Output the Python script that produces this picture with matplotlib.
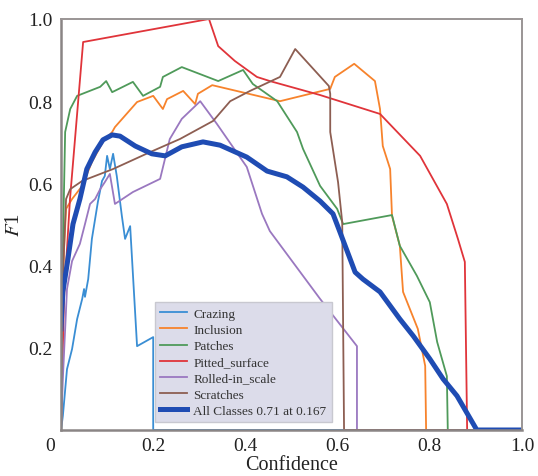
import matplotlib
matplotlib.use("Agg")
import matplotlib.pyplot as plt
from matplotlib.transforms import ScaledTranslation

plt.rcParams['font.family'] = ['Liberation Serif', 'DejaVu Serif']
plt.rcParams['mathtext.fontset'] = 'stix'

# ---- data (confidence, F1) ----
crazing_x = [0, 0.004, 0.013, 0.024, 0.035, 0.046, 0.050, 0.052, 0.059, 0.067, 0.080, 0.089,
             0.095, 0.100, 0.106, 0.113, 0.121, 0.132, 0.139, 0.150, 0.165, 0.200, 0.200, 1.0]
crazing_y = [0, 0.034, 0.148, 0.197, 0.270, 0.319, 0.343, 0.324, 0.367, 0.465, 0.555, 0.606,
             0.618, 0.667, 0.635, 0.672, 0.618, 0.521, 0.465, 0.496, 0.204, 0.226, 0.0, 0.0]

inclusion_x = [0, 0.002, 0.0065, 0.011, 0.024, 0.046, 0.067, 0.091, 0.111, 0.117, 0.165, 0.200,
               0.221, 0.230, 0.265, 0.291, 0.297, 0.328, 0.475, 0.584, 0.594, 0.636, 0.681,
               0.692, 0.698, 0.714, 0.718, 0.735, 0.742, 0.774, 0.790, 0.792, 1.0]
inclusion_y = [0, 0.246, 0.44, 0.538, 0.562, 0.594, 0.652, 0.701, 0.725, 0.737, 0.798, 0.813,
               0.781, 0.805, 0.825, 0.793, 0.818, 0.839, 0.800, 0.830, 0.859, 0.891, 0.849,
               0.781, 0.691, 0.635, 0.521, 0.448, 0.336, 0.246, 0.156, 0.0, 0.0]

patches_x = [0, 0.004, 0.009, 0.020, 0.035, 0.085, 0.098, 0.111, 0.156, 0.178, 0.215, 0.221,
             0.262, 0.341, 0.395, 0.416, 0.469, 0.512, 0.525, 0.562, 0.599, 0.612, 0.718,
             0.735, 0.772, 0.800, 0.816, 0.837, 0.839, 1.0]
patches_y = [0, 0.44, 0.725, 0.781, 0.813, 0.835, 0.849, 0.822, 0.847, 0.813, 0.835, 0.859,
             0.883, 0.849, 0.876, 0.842, 0.800, 0.725, 0.684, 0.594, 0.538, 0.501, 0.523,
             0.448, 0.375, 0.311, 0.214, 0.131, 0.0, 0.0]

pitted_x = [0, 0.0065, 0.0195, 0.048, 0.321, 0.341, 0.377, 0.425, 0.453, 0.562, 0.692, 0.779,
            0.837, 0.861, 0.876, 0.881, 1.0]
pitted_y = [0, 0.319, 0.562, 0.944, 1.0, 0.934, 0.898, 0.859, 0.849, 0.815, 0.769, 0.667,
            0.550, 0.465, 0.409, 0.0, 0.0]

rolled_x = [0, 0.004, 0.013, 0.024, 0.041, 0.052, 0.063, 0.074, 0.085, 0.095, 0.106, 0.117,
            0.156, 0.215, 0.236, 0.262, 0.302, 0.338, 0.403, 0.436, 0.453, 0.562, 0.642,
            0.642, 1.0]
rolled_y = [0, 0.124, 0.343, 0.411, 0.453, 0.501, 0.550, 0.562, 0.586, 0.603, 0.623, 0.550,
            0.579, 0.611, 0.708, 0.757, 0.800, 0.745, 0.640, 0.526, 0.484, 0.319, 0.204,
            0.0, 0.0]

scratches_x = [0, 0.002, 0.011, 0.020, 0.046, 0.113, 0.193, 0.258, 0.330, 0.367, 0.410, 0.475,
               0.508, 0.581, 0.584, 0.584, 0.601, 0.610, 0.614, 1.0]
scratches_y = [0, 0.319, 0.562, 0.586, 0.606, 0.635, 0.676, 0.708, 0.752, 0.800, 0.825, 0.859,
               0.927, 0.837, 0.818, 0.725, 0.603, 0.506, 0.0, 0.0]

all_x = [0, 0.004, 0.015, 0.026, 0.041, 0.056, 0.074, 0.091, 0.111, 0.128, 0.161, 0.197, 0.226,
         0.262, 0.308, 0.345, 0.403, 0.447, 0.490, 0.525, 0.562, 0.590, 0.605, 0.638, 0.655,
         0.692, 0.735, 0.764, 0.800, 0.829, 0.859, 0.902, 1.0]
all_y = [0.246, 0.336, 0.416, 0.501, 0.562, 0.635, 0.676, 0.706, 0.718, 0.715, 0.691, 0.672,
         0.667, 0.689, 0.701, 0.693, 0.664, 0.630, 0.616, 0.591, 0.557, 0.526, 0.482, 0.384,
         0.367, 0.336, 0.270, 0.229, 0.173, 0.124, 0.083, 0.0, 0.0]

names = ["Crazing", "Inclusion", "Patches", "Pitted_surface", "Rolled-in_scale", "Scratches"]
all_label = "All Classes 0.71 at 0.167"
xticks = [0, 0.2, 0.4, 0.6, 0.8, 1.0]
xtick_labels = ["0", "0.2", "0.4", "0.6", "0.8", "1.0"]
yticks = [0.2, 0.4, 0.6, 0.8, 1.0]
ytick_labels = ["0.2", "0.4", "0.6", "0.8", "1.0"]

series = [(crazing_x, crazing_y), (inclusion_x, inclusion_y), (patches_x, patches_y),
          (pitted_x, pitted_y), (rolled_x, rolled_y), (scratches_x, scratches_y)]
colors = ["#3a8ed4", "#f7832c", "#4f9a5a", "#e0343a", "#9a78c0", "#8d5e52"]

fig = plt.figure(figsize=(5.38, 4.77), dpi=100)
ax = fig.add_axes([61/538, 1-431/477, (522-61)/538, (431-20)/477])

for (xs, ys), c, n in zip(series, colors, names):
    ax.plot(xs, ys, color=c, lw=1.3, label=n)
ax.plot(all_x, all_y, color="#1f4cb3", lw=3.6, label=all_label)

ax.set_xlim(0, 1)
ax.set_ylim(0, 1)
ax.set_xticks(xticks)
ax.set_xticklabels(xtick_labels)
ax.set_yticks(yticks)
ax.set_yticklabels(ytick_labels)
ax.tick_params(length=0, labelsize=14, colors="#222222")
ax.tick_params(axis="x", pad=5)
ax.tick_params(axis="y", pad=6)
lab0 = ax.get_xticklabels()[0]
lab0.set_transform(lab0.get_transform() + ScaledTranslation(-0.11, 0, fig.dpi_scale_trans))

ax.set_xlabel("Confidence", fontsize=14.5, labelpad=1, color="#222222")
ax.set_ylabel(r"$F$1", fontsize=15, labelpad=3, color="#222222")

for s in ["left", "bottom"]:
    ax.spines[s].set_color("#8a8585")
    ax.spines[s].set_linewidth(1.8)
for s in ["top", "right"]:
    ax.spines[s].set_color("#9a9595")
    ax.spines[s].set_linewidth(1.4)

leg = ax.legend(loc="lower left", bbox_to_anchor=(0.204, 0.019), borderaxespad=0,
                fontsize=9.5, labelspacing=0.3, handlelength=2.0, handletextpad=0.5,
                borderpad=0.4, fancybox=False, framealpha=1,
                facecolor="#dcdcea", edgecolor="#c8c8d0")
for t in leg.get_texts():
    t.set_color("#333333")

fig.savefig("out.png", dpi=100)
